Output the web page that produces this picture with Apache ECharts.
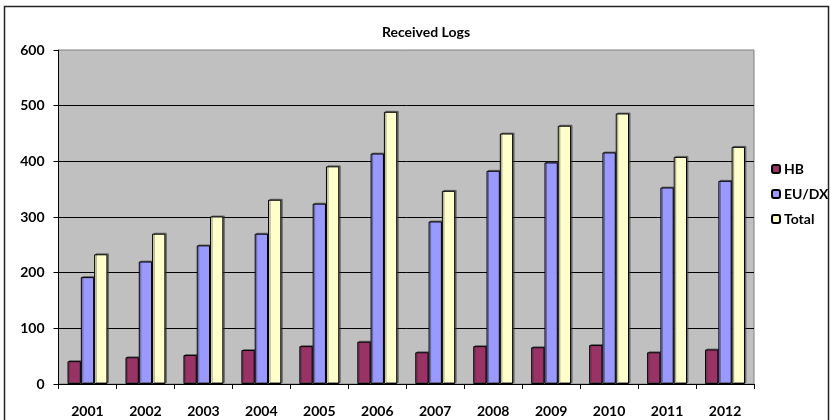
<!DOCTYPE html>
<html>
<head>
<meta charset="utf-8">
<title>Received Logs</title>
<script src="https://cdn.jsdelivr.net/npm/echarts@6/dist/echarts.min.js"></script>
<style>
  html, body { margin: 0; padding: 0; background: #fff; }
  #chart { width: 831px; height: 420px; }
</style>
</head>
<body>
<div id="chart"></div>
<script>
// Yearly received logs
const years = ['2001', '2002', '2003', '2004', '2005', '2006', '2007', '2008', '2009', '2010', '2011', '2012'];
const hb    = [41, 48, 52, 61, 68, 76, 57, 68, 66, 70, 57, 62];
const euDx  = [192, 220, 249, 270, 324, 414, 292, 383, 398, 416, 353, 365];
const total = [233, 270, 301, 331, 391, 489, 347, 450, 464, 486, 408, 426];
const yTicks = [0, 100, 200, 300, 400, 500, 600];

const FONT = 'Lato, "Open Sans", "Liberation Sans", sans-serif';

function barSeries(name, data, color) {
  return {
    name: name,
    type: 'bar',
    data: data,
    barWidth: 13.3,
    barGap: '0%',
    itemStyle: {
      color: color,
      borderColor: '#000',
      borderWidth: 1,
      shadowColor: 'rgba(60,60,60,0.55)',
      shadowOffsetX: 1.5,
      shadowOffsetY: -1,
      shadowBlur: 0
    },
    emphasis: { disabled: true }
  };
}

const chart = echarts.init(document.getElementById('chart'), null, { renderer: 'canvas' });
chart.setOption({
  animation: false,
  backgroundColor: '#fff',
  textStyle: { fontFamily: FONT },
  graphic: [{
    type: 'rect',
    shape: { x: 4.5, y: 6.5, width: 824, height: 430 },
    style: { fill: 'none', stroke: '#222', lineWidth: 1.5 },
    z: 100
  }],
  title: {
    text: 'Received Logs',
    left: 421,
    textAlign: 'center',
    top: 20,
    textStyle: { fontFamily: FONT, fontSize: 14, fontWeight: 'bold', color: '#000' }
  },
  legend: {
    orient: 'vertical',
    left: 766,
    top: 157,
    itemWidth: 8,
    itemHeight: 8,
    itemGap: 11,
    textStyle: { fontFamily: FONT, fontSize: 14, fontWeight: 'bold', color: '#000', padding: [0, 0, 0, -1] },
    data: ['HB', 'EU/DX', 'Total']
  },
  grid: {
    left: 58.5,
    right: 77,
    top: 50,
    bottom: 36,
    show: true,
    backgroundColor: '#C0C0C0',
    borderColor: '#808080',
    borderWidth: 1,
    containLabel: false
  },
  xAxis: {
    type: 'category',
    data: years,
    axisLine: { show: true, lineStyle: { color: '#000', width: 1 } },
    axisTick: { show: true, length: 5, alignWithLabel: false, lineStyle: { color: '#000' } },
    axisLabel: { fontFamily: FONT, fontSize: 14, fontWeight: 'bold', color: '#000', margin: 20 },
    splitLine: { show: false }
  },
  yAxis: {
    type: 'value',
    min: yTicks[0],
    max: yTicks[yTicks.length - 1],
    interval: 100,
    axisLine: { show: true, lineStyle: { color: '#000', width: 1 } },
    axisTick: { show: true, length: 5, lineStyle: { color: '#000' } },
    axisLabel: { fontFamily: FONT, fontSize: 14, fontWeight: 'bold', color: '#000', margin: 14 },
    splitLine: { show: true, showMaxLine: false, lineStyle: { color: '#000', width: 1 } }
  },
  series: [
    barSeries('HB', hb, '#993366'),
    barSeries('EU/DX', euDx, '#9999FF'),
    barSeries('Total', total, '#FFFFCC')
  ]
});
</script>
</body>
</html>
